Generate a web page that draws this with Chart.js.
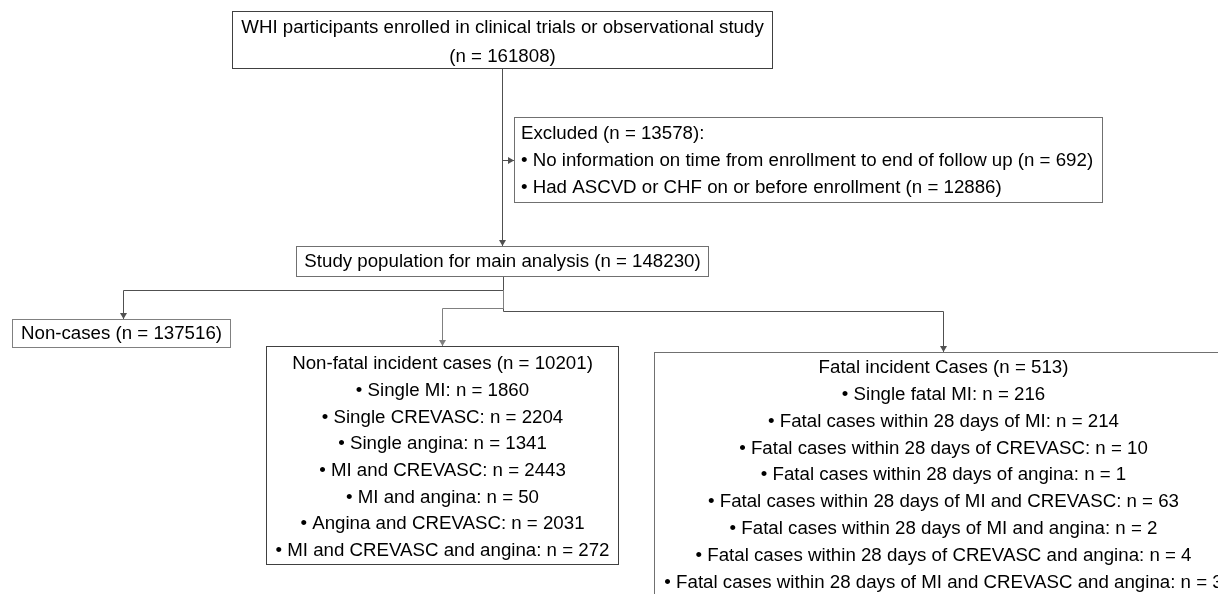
<!DOCTYPE html>
<html>
<head>
<meta charset="utf-8">
<script src="https://cdn.jsdelivr.net/npm/chart.js@4"></script>
<style>
  body { margin: 0; background: #fff; }
  #wrap { width: 1218px; height: 594px; }
</style>
</head>
<body>
<div id="wrap"><canvas id="flow" width="1218" height="594"></canvas></div>
<script>
// flow chart contents
var enrolledTitle = "WHI participants enrolled in clinical trials or observational study";
var enrolledN = 161808;
var excludedN = 13578;
var excludedReasons = ["No information on time from enrollment to end of follow up", "Had ASCVD or CHF on or before enrollment"];
var excludedCounts = [692, 12886];
var studyN = 148230;
var nonCasesN = 137516;
var nonFatalN = 10201;
var nonFatalCategories = ["Single MI", "Single CREVASC", "Single angina", "MI and CREVASC", "MI and angina", "Angina and CREVASC", "MI and CREVASC and angina"];
var nonFatalCounts = [1860, 2204, 1341, 2443, 50, 2031, 272];
var fatalN = 513;
var fatalCategories = ["Single fatal MI", "Fatal cases within 28 days of MI", "Fatal cases within 28 days of CREVASC", "Fatal cases within 28 days of angina", "Fatal cases within 28 days of MI and CREVASC", "Fatal cases within 28 days of MI and angina", "Fatal cases within 28 days of CREVASC and angina", "Fatal cases within 28 days of MI and CREVASC and angina"];
var fatalCounts = [216, 214, 10, 1, 63, 2, 4, 3];

function bullets(cats, counts, sep) {
  var out = [];
  for (var i = 0; i < cats.length; i++) {
    out.push("\u2022 " + cats[i] + sep + counts[i] + (sep === ": n = " ? "" : ")"));
  }
  return out;
}

// boxes: x0,x1,y0,y1 in chart units, first line y and line step
var boxes = [
  { lines: [enrolledTitle, "(n = " + enrolledN + ")"], x0: 232, x1: 772, y0: 11, y1: 68, ty: 27, step: 29, align: "center", color: "#404040" },
  { lines: ["Excluded (n = " + excludedN + "):"].concat(bullets(excludedReasons, excludedCounts, " (n = ")), x0: 514, x1: 1102, y0: 117, y1: 202, ty: 133, step: 27, align: "left", color: "#707070" },
  { lines: ["Study population for main analysis (n = " + studyN + ")"], x0: 296, x1: 708, y0: 246, y1: 276, ty: 261, step: 0, align: "center", color: "#707070" },
  { lines: ["Non-cases (n = " + nonCasesN + ")"], x0: 12, x1: 230, y0: 319, y1: 347, ty: 333, step: 0, align: "center", color: "#808080" },
  { lines: ["Non-fatal incident cases (n = " + nonFatalN + ")"].concat(bullets(nonFatalCategories, nonFatalCounts, ": n = ")), x0: 266, x1: 618, y0: 346, y1: 564, ty: 363, step: 26.7, align: "center", color: "#404040" },
  { lines: ["Fatal incident Cases (n = " + fatalN + ")"].concat(bullets(fatalCategories, fatalCounts, ": n = ")), x0: 654, x1: 1232, y0: 352, y1: 600, ty: 367, step: 26.8, align: "center", color: "#707070" }
];

// connectors as polylines, last point gets an arrow
var links = [
  { pts: [[502, 68], [502, 246]], color: "#505050" },
  { pts: [[502, 160], [514, 160]], color: "#505050" },
  { pts: [[503, 276], [503, 290], [123, 290], [123, 319]], color: "#505050" },
  { pts: [[503, 290], [503, 308], [442, 308], [442, 346]], color: "#808080" },
  { pts: [[503, 308], [503, 311], [943, 311], [943, 352]], color: "#505050" }
];

var flowPlugin = {
  id: "flow",
  afterDraw: function (chart) {
    var ctx = chart.ctx;
    var sx = chart.scales.x;
    var sy = chart.scales.y;
    ctx.save();
    ctx.lineWidth = 1;
    links.forEach(function (l) {
      ctx.strokeStyle = l.color;
      ctx.fillStyle = l.color;
      ctx.beginPath();
      l.pts.forEach(function (p, i) {
        var px = Math.round(sx.getPixelForValue(p[0])) + 0.5;
        var py = Math.round(sy.getPixelForValue(p[1])) + 0.5;
        if (i === 0) ctx.moveTo(px, py); else ctx.lineTo(px, py);
      });
      ctx.stroke();
      var a = l.pts[l.pts.length - 1];
      var b = l.pts[l.pts.length - 2];
      var ax = Math.round(sx.getPixelForValue(a[0])) + 0.5;
      var ay = Math.round(sy.getPixelForValue(a[1]));
      ctx.beginPath();
      if (a[0] === b[0]) {
        ctx.moveTo(ax, ay);
        ctx.lineTo(ax - 3.5, ay - 6);
        ctx.lineTo(ax + 3.5, ay - 6);
      } else {
        ax = Math.round(sx.getPixelForValue(a[0]));
        ay = ay + 0.5;
        ctx.moveTo(ax, ay);
        ctx.lineTo(ax - 6, ay - 3.5);
        ctx.lineTo(ax - 6, ay + 3.5);
      }
      ctx.closePath();
      ctx.fill();
    });
    boxes.forEach(function (b) {
      var x0 = Math.round(sx.getPixelForValue(b.x0)) + 0.5;
      var x1 = Math.round(sx.getPixelForValue(b.x1)) + 0.5;
      var y0 = Math.round(sy.getPixelForValue(b.y0)) + 0.5;
      var y1 = Math.round(sy.getPixelForValue(b.y1)) + 0.5;
      ctx.fillStyle = "#fff";
      ctx.fillRect(x0, y0, x1 - x0, y1 - y0);
      ctx.strokeStyle = b.color;
      ctx.strokeRect(x0, y0, x1 - x0, y1 - y0);
      ctx.fillStyle = "#000";
      ctx.font = "18.7px 'Liberation Sans', Arial, sans-serif";
      ctx.textBaseline = "middle";
      ctx.textAlign = b.align;
      var tx = b.align === "left" ? x0 + 6.5 : (x0 + x1) / 2;
      b.lines.forEach(function (t, i) {
        ctx.fillText(t, tx, sy.getPixelForValue(b.ty + i * b.step) + 1);
      });
    });
    ctx.restore();
  }
};

new Chart(document.getElementById("flow"), {
  type: "scatter",
  data: { datasets: [{ data: [] }] },
  options: {
    responsive: false,
    animation: false,
    devicePixelRatio: 1,
    layout: { padding: 0 },
    plugins: { legend: { display: false }, tooltip: { enabled: false } },
    scales: {
      x: { type: "linear", min: 0, max: 1218, display: false },
      y: { type: "linear", min: 0, max: 594, reverse: true, display: false }
    }
  },
  plugins: [flowPlugin]
});
</script>
</body>
</html>
